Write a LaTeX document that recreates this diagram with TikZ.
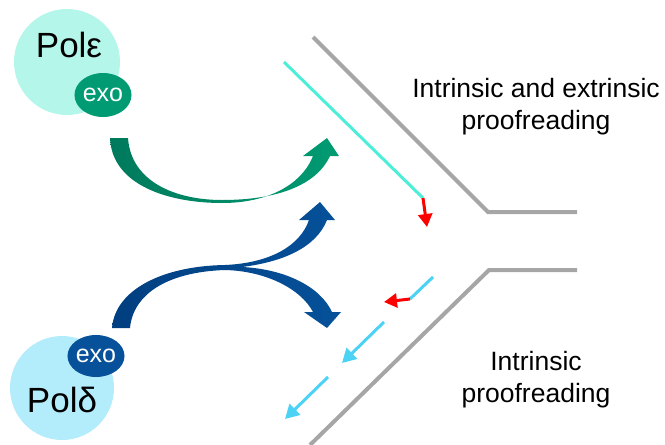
\documentclass[tikz,border=0pt]{standalone}
\usepackage{fontspec}
\setmainfont{Liberation Sans}
\usetikzlibrary{arrows.meta}
\usetikzlibrary{shapes.geometric}
\definecolor{epscirc}{HTML}{B4F6EA}
\definecolor{deltacirc}{HTML}{B3ECFA}
\definecolor{epsexo}{HTML}{009B72}
\definecolor{deltaexo}{HTML}{06519A}
\definecolor{greendark}{HTML}{007A5C}
\definecolor{bluedark}{HTML}{003F80}
\definecolor{strandgray}{HTML}{A6A6A6}
\definecolor{leadcyan}{HTML}{4DEED8}
\definecolor{lagcyan}{HTML}{4CD2F5}
\definecolor{errred}{HTML}{FF0000}
\tikzset{% styles of the picture
        strand/.style={line width=4pt, color=strandgray},
        newdna/.style={line width=3pt},
        backtrack/.style={line width=3pt, color=errred, -{Triangle[length=13pt,width=14pt]}},
        okazaki/.style={line width=3pt, color=lagcyan, -{Triangle[length=14pt,width=15pt]}},
        polcirc/.style={circle, inner sep=0pt},
        exobox/.style={ellipse, inner sep=0pt, minimum width=56pt, minimum height=44pt, text=white, font=\fontsize{25}{25}\selectfont},
        polname/.style={anchor=base, font=\fontsize{35}{35}\selectfont},
        note/.style={anchor=base, font=\fontsize{26.5}{26.5}\selectfont}
        }

\begin{document}
\begin{tikzpicture}[x=1pt, y=-1pt]
\useasboundingbox (0,0) rectangle (665,445);

\node [polcirc, fill=epscirc, minimum size=106pt] (pole) at (67,62) {};
\node [polname] (poletext) at (69,57) {Polε};
\node [exobox, fill=epsexo] (exoe) at (103,95) {exo};

\node [polcirc, fill=deltacirc, minimum size=104pt] (pold) at (62,388) {};
\node [polname] (poldtext) at (62,412) {Polδ};
\node [exobox, fill=deltaexo, minimum height=42pt] (exod) at (96,356) {exo};

\shade[left color=greendark, right color=epsexo]
  (110,138) .. controls (112,186) and (170,203) .. (222,203)
  .. controls (266,203) and (301,186) .. (313,156)
  -- (303,156) -- (327,138) -- (339,156) -- (330,156)
  .. controls (316,186) and (276,200) .. (222,200)
  .. controls (176,200) and (131,182) .. (128,138) -- cycle;

\shade[left color=bluedark, right color=deltaexo]
  (112,328) .. controls (115,290) and (162,266) .. (225,265)
  .. controls (270,263) and (300,246) .. (309,220)
  -- (299,220) -- (320,202) -- (335,220) -- (327,220)
  .. controls (316,248) and (282,262) .. (242,267)
  .. controls (284,269) and (320,286) .. (332,312)
  -- (341,312) -- (327,328) -- (304,312) -- (313,312)
  .. controls (301,289) and (266,271) .. (225,270)
  .. controls (166,272) and (133,295) .. (130,328) -- cycle;

\draw[strand] (313,37) -- (488,212) -- (577,212);
\draw[strand] (310,445) -- (489,270) -- (577,270);

\coordinate (lead0) at (284,62);
\coordinate (lead1) at (423,198);
\coordinate (leadback) at (427,227);
\draw[newdna, leadcyan] (lead0) -- (lead1);
\draw[backtrack] (lead1) -- (leadback);

\coordinate (lagA0) at (433,277);
\coordinate (lagA1) at (410,299);
\coordinate (lagback) at (384,302);
\draw[newdna, lagcyan] (lagA0) -- (lagA1);
\draw[backtrack] (lagA1) -- (lagback);

\coordinate (lagB0) at (384,322);
\coordinate (lagB1) at (342,363);
\draw[okazaki] (lagB0) -- (lagB1);
\coordinate (lagC0) at (328,377);
\coordinate (lagC1) at (285,419);
\draw[okazaki] (lagC0) -- (lagC1);

\node [note] (leadtext) at (536,97) {Intrinsic and extrinsic};
\node [note] (leadtextb) at (536,129) {proofreading};
\node [note] (lagtext) at (536,370) {Intrinsic};
\node [note] (lagtextb) at (536,402) {proofreading};
\end{tikzpicture}
\end{document}
